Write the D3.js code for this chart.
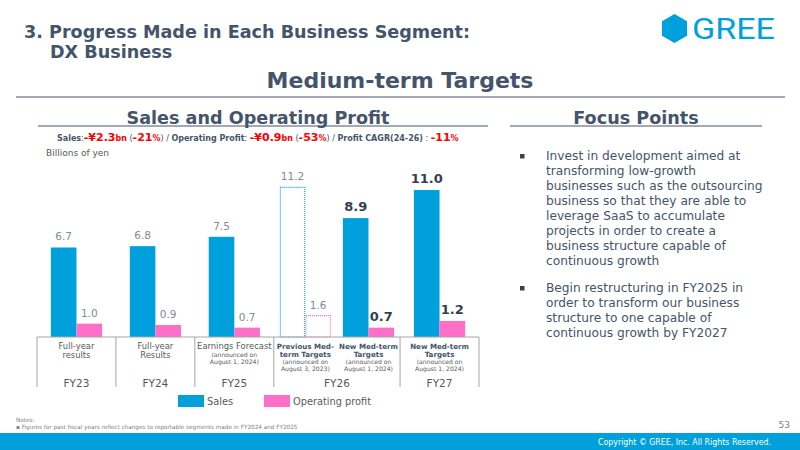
<!DOCTYPE html>
<html>
<head>
<meta charset="utf-8">
<script src="https://cdn.jsdelivr.net/npm/d3@7"></script>
<style>
  body { margin: 0; background: #fff; }
  svg { display: block; font-family: "DejaVu Sans", Verdana, sans-serif; }
</style>
</head>
<body>
<div id="chart"></div>
<script>
// ---- data ----
const years = ['FY23', 'FY24', 'FY25', 'FY26', 'FY26', 'FY27'];
const categories = [
  ['Full-year', 'results'],
  ['Full-year', 'Results'],
  ['Earnings Forecast'],
  ['Previous Med-', 'term Targets'],
  ['New Med-term', 'Targets'],
  ['New Med-term', 'Targets']
];
const announced = [
  [],
  [],
  ['(announced on', 'August 1, 2024)'],
  ['(announced on', 'August 3, 2023)'],
  ['(announced on', 'August 1, 2024)'],
  ['(announced on', 'August 1, 2024)']
];
const kinds = ['actual', 'actual', 'forecast', 'previous', 'target', 'target'];
const sales = [6.7, 6.8, 7.5, 11.2, 8.9, 11.0];
const profit = [1.0, 0.9, 0.7, 1.6, 0.7, 1.2];
const seriesNames = ['Sales', 'Operating profit'];

const headline = [
  ['Sales', 'k'], [':', 'n'], ['-¥2.3', 'R'], ['bn', 'r'], [' (', 'n'], ['-21', 'R'], ['%', 'r'], [') / ', 'n'],
  ['Operating Profit', 'k'], [': ', 'n'], ['-¥0.9', 'R'], ['bn', 'r'], [' (', 'n'], ['-53', 'R'], ['%', 'r'], [') / ', 'n'],
  ['Profit CAGR(24-26)', 'k'], [' : ', 'n'], ['-11', 'R'], ['%', 'r']
];
const focusPoints = [
  ['Invest in development aimed at', 'transforming low-growth', 'businesses such as the outsourcing',
   'business so that they are able to', 'leverage SaaS to accumulate', 'projects in order to create a',
   'business structure capable of', 'continuous growth'],
  ['Begin restructuring in FY2025 in', 'order to transform our business',
   'structure to one capable of', 'continuous growth by FY2027']
];

// ---- setup ----
const W = 800, H = 450;
const dark = '#44546a', gray = '#7f8a99', blue = '#00a0dc', pink = '#ff6ec7', red = '#ff0000';

const svg = d3.select('#chart').append('svg')
  .attr('width', W).attr('height', H)
  .attr('viewBox', `0 0 ${W} ${H}`);

// title block
svg.append('text').attr('x', 24).attr('y', 38)
  .attr('font-size', 17.6).attr('font-weight', 'bold').attr('fill', dark)
  .text('3. Progress Made in Each Business Segment:');
svg.append('text').attr('x', 50).attr('y', 58)
  .attr('font-size', 17.6).attr('font-weight', 'bold').attr('fill', dark)
  .text('DX Business');
svg.append('text').attr('x', 400).attr('y', 88).attr('text-anchor', 'middle')
  .attr('font-size', 22).attr('font-weight', 'bold').attr('fill', dark)
  .text('Medium-term Targets');
svg.append('line').attr('x1', 16).attr('x2', 785).attr('y1', 97).attr('y2', 97)
  .attr('stroke', dark).attr('stroke-width', 1.2);

// logo
const hex = d3.range(6).map(i => {
  const a = Math.PI / 3 * i - Math.PI / 2;
  return [674.5 + 14.5 * Math.cos(a), 28.5 + 14.5 * Math.sin(a)];
});
svg.append('path').attr('d', d3.line()(hex) + 'Z').attr('fill', blue);
svg.append('text').attr('x', 692).attr('y', 39)
  .attr('font-family', 'Roboto, sans-serif').attr('font-size', 29).attr('fill', blue)
  .attr('textLength', 83).attr('lengthAdjust', 'spacingAndGlyphs')
  .text('GREE');

// section headings
svg.append('text').attr('x', 258).attr('y', 124).attr('text-anchor', 'middle')
  .attr('font-size', 17.6).attr('font-weight', 'bold').attr('fill', dark)
  .text('Sales and Operating Profit');
svg.append('line').attr('x1', 38).attr('x2', 488).attr('y1', 126).attr('y2', 126)
  .attr('stroke', dark).attr('stroke-width', 1);
svg.append('text').attr('x', 636).attr('y', 124).attr('text-anchor', 'middle')
  .attr('font-size', 17.6).attr('font-weight', 'bold').attr('fill', dark)
  .text('Focus Points');
svg.append('line').attr('x1', 510).attr('x2', 762).attr('y1', 126).attr('y2', 126)
  .attr('stroke', dark).attr('stroke-width', 1);

// headline numbers
const hl = svg.append('text').attr('x', 57).attr('y', 141);
hl.selectAll('tspan').data(headline).join('tspan')
  .attr('font-size', d => d[1] === 'R' ? 11 : 8)
  .attr('font-weight', d => d[1] === 'n' ? 'normal' : 'bold')
  .attr('fill', d => (d[1] === 'R' || d[1] === 'r') ? red : dark)
  .style('white-space', 'pre')
  .text(d => d[0]);

svg.append('text').attr('x', 46).attr('y', 156)
  .attr('font-size', 9).attr('fill', '#595959')
  .text('Billions of yen');

// ---- chart ----
const baseY = 337;
// FY26 holds two columns, each a bit narrower than a normal fiscal-year column
const colW = years.map(yr => years.filter(v => v === yr).length > 1 ? 0.8 : 1);
const colStart = d3.cumsum([0].concat(colW));
const xu = d3.scaleLinear().domain([0, d3.sum(colW)]).range([37, 479]);
const colX0 = i => xu(colStart[i]);
const colX1 = i => xu(colStart[i] + colW[i]);
const colCx = i => (colX0(i) + colX1(i)) / 2;

const barW = 25.6;
const xs = d3.scaleBand().domain(seriesNames).range([-barW, barW]);
const y = d3.scaleLinear().domain([0, 12]).range([baseY, baseY - 12 * 13.36]);

const rows = years.map((yr, i) => ({ i, yr, kind: kinds[i], vals: [sales[i], profit[i]] }));
const colors = [blue, pink];

const groups = svg.append('g').selectAll('g').data(rows).join('g')
  .attr('transform', d => `translate(${colCx(d.i)},0)`);

groups.each(function(d) {
  const g = d3.select(this);
  d.vals.forEach((v, k) => {
    const bx = xs(seriesNames[k]);
    const bw = xs.bandwidth();
    if (d.kind === 'previous') {
      g.append('rect').attr('x', bx + 0.6).attr('y', y(v)).attr('width', bw - 1.2).attr('height', y(0) - y(v))
        .attr('fill', 'none').attr('stroke', colors[k]).attr('stroke-width', 1.1)
        .attr('stroke-dasharray', '1,1');
    } else {
      g.append('rect').attr('x', bx).attr('y', y(v)).attr('width', bw).attr('height', y(0) - y(v))
        .attr('fill', colors[k]);
    }
    const bold = d.kind === 'target';
    g.append('text').attr('x', bx + bw / 2).attr('y', y(v) - 7)
      .attr('text-anchor', 'middle')
      .attr('font-size', bold ? 13 : 10.5)
      .attr('font-weight', bold ? 'bold' : 'normal')
      .attr('fill', bold ? '#333f50' : gray)
      .text(d3.format('.1f')(v));
  });
});

// category table
const tableBottom = 387;
const lineColor = '#a6a6a6';
svg.append('line').attr('x1', 37).attr('x2', 479).attr('y1', baseY).attr('y2', baseY)
  .attr('stroke', lineColor).attr('stroke-width', 1);
const edges = [0].concat(d3.range(1, years.length).filter(i => years[i] !== years[i - 1]));
edges.map(colX0).concat([colX1(years.length - 1)]).forEach(xe => {
  svg.append('line').attr('x1', xe).attr('x2', xe).attr('y1', baseY).attr('y2', tableBottom)
    .attr('stroke', lineColor).attr('stroke-width', 1);
});

rows.forEach(d => {
  const cx = colCx(d.i);
  const boldCat = d.kind === 'previous' || d.kind === 'target';
  const lh = boldCat ? 7.6 : 9;
  const catLines = categories[d.i];
  catLines.forEach((t, j) => {
    svg.append('text').attr('x', cx).attr('y', 349 + j * lh).attr('text-anchor', 'middle')
      .attr('font-size', boldCat ? 7.1 : 8.4).attr('font-weight', boldCat ? 'bold' : 'normal')
      .attr('fill', boldCat ? dark : '#595959')
      .text(t);
  });
  announced[d.i].forEach((t, j) => {
    svg.append('text').attr('x', cx).attr('y', 349 + (catLines.length - 1) * lh + 7.5 + j * 7)
      .attr('text-anchor', 'middle')
      .attr('font-size', 6.1).attr('fill', '#595959')
      .text(t);
  });
});

// fiscal year labels
d3.groups(rows, d => d.yr).forEach(([yr, items]) => {
  const x0 = colX0(items[0].i), x1 = colX1(items[items.length - 1].i);
  svg.append('text').attr('x', (x0 + x1) / 2).attr('y', 387).attr('text-anchor', 'middle')
    .attr('font-size', 10.5).attr('fill', '#595959')
    .text(yr);
});

// legend
const legend = svg.append('g').selectAll('g').data(seriesNames).join('g')
  .attr('transform', (d, i) => `translate(${178 + i * 86},395)`);
legend.append('rect').attr('width', 26).attr('height', 12).attr('fill', (d, i) => colors[i]);
legend.append('text').attr('x', 29).attr('y', 10).attr('font-size', 9.8).attr('fill', '#595959')
  .text(d => d);

// focus points
let fy = 160;
focusPoints.forEach(lines => {
  svg.append('rect').attr('x', 520).attr('y', fy - 6).attr('width', 4.5).attr('height', 4.5).attr('fill', '#404040');
  lines.forEach((t, j) => {
    svg.append('text').attr('x', 546).attr('y', fy + j * 15)
      .attr('font-size', 12.2).attr('fill', dark)
      .text(t);
  });
  fy += lines.length * 15 + 12;
});

// notes and footer
svg.append('text').attr('x', 16).attr('y', 422).attr('font-size', 5.7).attr('fill', '#808080').text('Notes:');
svg.append('text').attr('x', 16).attr('y', 429).attr('font-size', 5.7).attr('fill', '#808080')
  .text('\u25AA  Figures for past fiscal years reflect changes to reportable segments made in FY2024 and FY2025');
svg.append('text').attr('x', 790).attr('y', 428).attr('text-anchor', 'end')
  .attr('font-size', 9).attr('fill', '#7f7f7f').text('53');
svg.append('rect').attr('x', 0).attr('y', 433).attr('width', W).attr('height', H - 433).attr('fill', blue);
svg.append('text').attr('x', 771).attr('y', 445).attr('text-anchor', 'end')
  .attr('font-size', 9).attr('fill', '#fff')
  .attr('textLength', 173).attr('lengthAdjust', 'spacingAndGlyphs')
  .text('Copyright \u00A9 GREE, Inc. All Rights Reserved.');
</script>
</body>
</html>
